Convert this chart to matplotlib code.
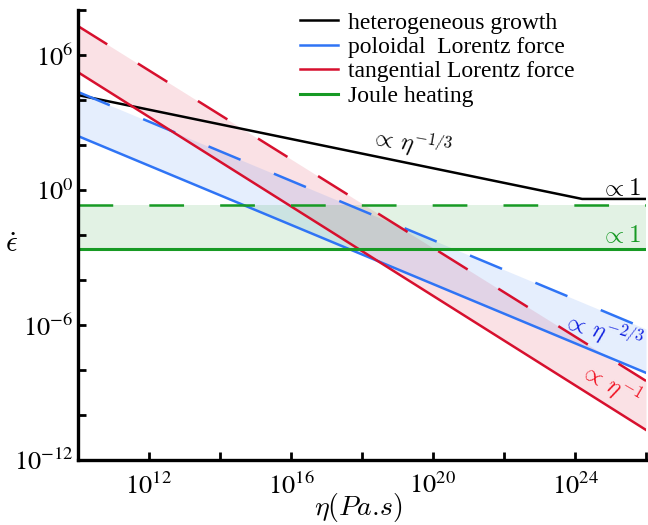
import numpy as np
import matplotlib
matplotlib.use('Agg')
import matplotlib.pyplot as plt

plt.rcParams['font.family'] = ['Liberation Serif', 'DejaVu Serif']
plt.rcParams['mathtext.fontset'] = 'cm'
plt.rcParams['lines.scale_dashes'] = False

# viscosity range (Pa.s) and end values of each regime
eta = np.array([1e10, 1e26])
pol_lo = np.array([10**2.40, 10**-8.13])
pol_hi = np.array([10**4.36, 10**-6.18])
tan_lo = np.array([10**5.24, 10**-10.67])
tan_hi = np.array([10**7.29, 10**-8.49])
joule_lo = np.array([10**-2.62, 10**-2.62])
joule_hi = np.array([10**-0.67, 10**-0.67])
het_eta = np.array([1e10, 10**24.2, 1e26])
het = np.array([10**4.22, 10**-0.40, 10**-0.40])

c_blk = 'black'
c_blu = '#2f74f5'
c_red = '#d7102e'
c_grn = '#179a24'
dash = (25, 26)
lw = 1.8

fig = plt.figure(figsize=(6.48, 5.25), dpi=100)
ax = fig.add_axes([0.12, 0.124, 0.877, 0.857])

ax.fill_between(eta, tan_lo, tan_hi, color=c_red, alpha=0.12, lw=0)
ax.fill_between(eta, pol_lo, pol_hi, color=c_blu, alpha=0.12, lw=0)
ax.fill_between(eta, joule_lo, joule_hi, color=c_grn, alpha=0.12, lw=0)

ax.plot(het_eta, het, color=c_blk, lw=lw, label='heterogeneous growth')
ax.plot(eta, pol_lo, color=c_blu, lw=lw, label='poloidal  Lorentz force')
ax.plot(eta, pol_hi, color=c_blu, lw=lw, dashes=dash)
ax.plot(eta, tan_lo, color=c_red, lw=lw, label='tangential Lorentz force')
ax.plot(eta, tan_hi, color=c_red, lw=lw, dashes=dash)
ax.plot(eta, joule_lo, color=c_grn, lw=2.2, label='Joule heating')
ax.plot(eta, joule_hi, color=c_grn, lw=lw, dashes=dash)

ax.set_xscale('log')
ax.set_yscale('log')
ax.set_xlim(1e10, 1e26)
ax.set_ylim(1e-12, 1e8)

xt = [10.0**k for k in range(12, 27, 2)]
ax.set_xticks(xt)
ax.set_xticklabels([r'$10^{%d}$' % k if k % 4 == 0 and k < 26 else '' for k in range(12, 27, 2)])
yt = [10.0**k for k in range(-12, 9, 2)]
ax.set_yticks(yt)
ax.set_yticklabels([r'$10^{%d}$' % k if k % 6 == 0 else '' for k in range(-12, 9, 2)])
ax.minorticks_off()
for lab in ax.get_xticklabels() + ax.get_yticklabels():
    lab.set_math_fontfamily('stix')
    lab.set_fontsize(19)
ax.tick_params(direction='in', length=6, width=2)
ax.tick_params(axis='x', pad=9)
ax.tick_params(axis='y', pad=3)

for s in ['top', 'right']:
    ax.spines[s].set_visible(False)
for s in ['left', 'bottom']:
    ax.spines[s].set_linewidth(2.4)

ax.set_xlabel(r'$\eta(Pa.\!s)$', fontsize=20)
ax.xaxis.set_label_coords(0.493, -0.07)
ax.set_ylabel(r'$\dot{\epsilon}$', fontsize=21, rotation=0, ha='center', va='center')
ax.yaxis.set_label_coords(-0.116, 0.478)

ax.text(10**19.4, 10**2.1, r'$\propto\,\eta^{-1/3}$', fontsize=17, ha='center', va='center', rotation=-10)
ax.text(10**25.27, 10**0.04, r'$\propto 1$', fontsize=18, ha='center', va='center')
ax.text(10**25.27, 10**-2.04, r'$\propto 1$', fontsize=18, ha='center', va='center', color=c_grn)
ax.text(10**24.79, 10**-6.27, r'$\propto\,\eta^{-2/3}$', fontsize=17, ha='center', va='center', rotation=-17, color='#1020e0')
ax.text(10**25.0, 10**-8.6, r'$\propto\,\eta^{-1}$', fontsize=17, ha='center', va='center', rotation=-30, color='#f01020')

ax.legend(loc='upper left', bbox_to_anchor=(0.391, 0.995), frameon=False, fontsize=17,
          handlelength=1.6, handletextpad=0.45, labelspacing=0.12, borderaxespad=0, borderpad=0)

fig.savefig('out.png', dpi=100)
